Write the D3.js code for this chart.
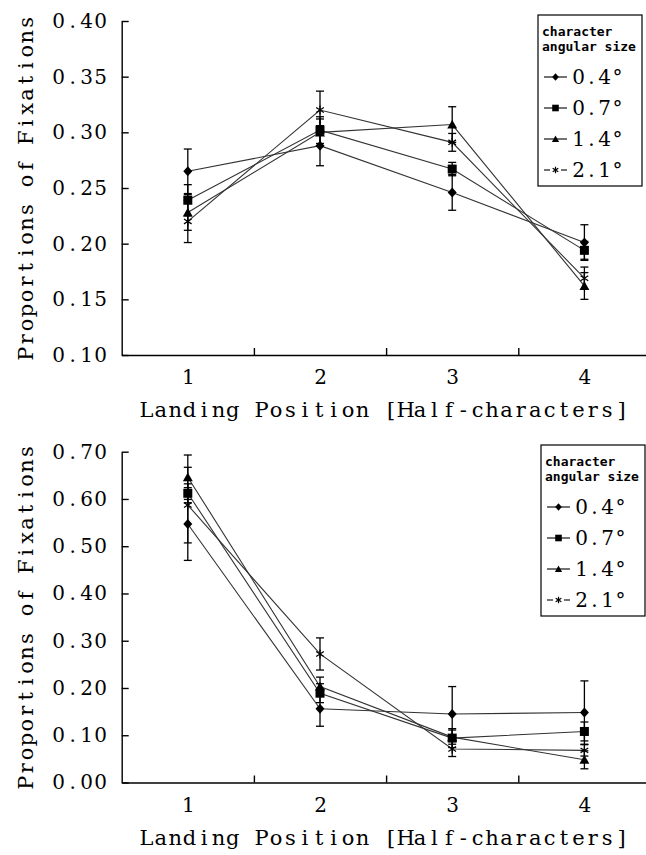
<!DOCTYPE html>
<html>
<head>
<meta charset="utf-8">
<script src="https://cdn.jsdelivr.net/npm/d3@7"></script>
<style>
body { margin: 0; background: #fff; }
svg { display: block; }
.axis path, .axis line { stroke: #000; stroke-width: 1.4; }
.axis text { font-family: "DejaVu Serif", serif; font-size: 20px; fill: #000; }
.title { font-family: "DejaVu Serif", serif; font-size: 21px; fill: #000; }
.series-line { fill: none; stroke: #333; stroke-width: 1.1; }
.err { stroke: #000; stroke-width: 1.3; }
.legend-title { font-family: "DejaVu Sans Mono", monospace; font-weight: bold; font-size: 13px; fill: #000; }
.legend-text { font-family: "DejaVu Serif", serif; font-size: 20px; fill: #000; }
</style>
</head>
<body>
<svg id="chart" width="646" height="855"></svg>
<script>
const categories = [1, 2, 3, 4];
const sizeLabels = ["0.4°", "0.7°", "1.4°", "2.1°"];
const markerTypes = ["diamond", "square", "triangle", "asterisk"];

// top panel
const topTicks = [0.10, 0.15, 0.20, 0.25, 0.30, 0.35, 0.40];
const top04 = [0.265, 0.288, 0.246, 0.201];
const top07 = [0.239, 0.302, 0.267, 0.194];
const top14 = [0.228, 0.300, 0.307, 0.162];
const top21 = [0.220, 0.320, 0.291, 0.169];
const topErr04 = [0.020, 0.018, 0.016, 0.016];
const topErr07 = [0.014, 0.012, 0.006, 0.008];
const topErr14 = [0.016, 0.012, 0.016, 0.012];
const topErr21 = [0.019, 0.017, 0.008, 0.010];

// bottom panel
const bottomTicks = [0.00, 0.10, 0.20, 0.30, 0.40, 0.50, 0.60, 0.70];
const bottom04 = [0.547, 0.156, 0.145, 0.148];
const bottom07 = [0.612, 0.189, 0.094, 0.108];
const bottom14 = [0.646, 0.203, 0.096, 0.048];
const bottom21 = [0.587, 0.272, 0.071, 0.068];
const bottomErr04 = [0.077, 0.037, 0.058, 0.067];
const bottomErr07 = [0.020, 0.020, 0.020, 0.020];
const bottomErr14 = [0.047, 0.020, 0.015, 0.019];
const bottomErr21 = [0.080, 0.034, 0.016, 0.012];

const xTitle = "Landing Position [Half-characters]";
const yTitle = "Proportions of Fixations";
const legendHead = ["character", "angular size"];

const svg = d3.select("#chart");

// lays characters out in fixed-width cells, like the half-width glyphs of the original
function monoText(text, str, x0, cw, anchor) {
	const n = str.length;
	let start = x0;
	if (anchor === "end") start = x0 - n * cw;
	else if (anchor === "middle") start = x0 - n * cw / 2;
	text.text(null).attr("text-anchor", "middle");
	for (let i = 0; i < n; i++) {
		text.append("tspan")
			.attr("x", start + (i + 0.5) * cw)
			.text(str[i]);
	}
}

function markerPath(type, r) {
	if (type === "diamond") {
		return `M0,${-r * 1.1}L${r},0L0,${r * 1.1}L${-r},0Z`;
	}
	else if (type === "square") {
		return `M${-r},${-r}h${2 * r}v${2 * r}h${-2 * r}Z`;
	}
	else if (type === "triangle") {
		return `M0,${-r * 1.05}L${r * 1.1},${r * 0.9}L${-r * 1.1},${r * 0.9}Z`;
	}
	// asterisk
	return `M0,${-r}V${r}M${-r * 0.85},${-r * 0.55}L${r * 0.85},${r * 0.55}M${-r * 0.85},${r * 0.55}L${r * 0.85},${-r * 0.55}`;
}

function drawMarker(g, type, r) {
	const p = g.append("path").attr("d", markerPath(type, r));
	if (type === "asterisk") {
		p.attr("fill", "none").attr("stroke", "#000").attr("stroke-width", 1.2);
	}
	else {
		p.attr("fill", "#000");
	}
}

function drawPanel(opts) {

	const x = d3.scaleLinear().domain([0.5, 4.5]).range([121.7, 650.5]);
	const y = d3.scaleLinear().domain(opts.domain).range([opts.bottom, opts.top]);
	const g = svg.append("g");

	// y axis
	const yAxis = g.append("g")
		.attr("class", "axis")
		.attr("transform", "translate(121.7,0)")
		.call(d3.axisLeft(y).tickValues(opts.ticks).tickSize(-7).tickSizeOuter(0)
			.tickPadding(14).tickFormat(d3.format(".2f")));
	yAxis.selectAll(".tick text").each(function() {
		const t = d3.select(this);
		monoText(t, t.text(), -14, 14, "end");
	});

	// x axis with inner ticks between categories
	g.append("g")
		.attr("class", "axis")
		.attr("transform", "translate(0," + opts.bottom + ")")
		.call(d3.axisBottom(x).tickValues([1.5, 2.5, 3.5]).tickSize(-7).tickSizeOuter(0).tickFormat(""));

	const xLabels = g.append("g")
		.attr("class", "axis")
		.attr("transform", "translate(0," + opts.bottom + ")")
		.call(d3.axisBottom(x).tickValues(categories).tickSize(0).tickPadding(15).tickFormat(d3.format("d")));
	xLabels.select(".domain").remove();

	const xt = g.append("text")
		.attr("class", "title")
		.attr("y", opts.bottom + 62);
	monoText(xt, xTitle, 384, 14.4, "middle");

	const yt = g.append("text")
		.attr("class", "title")
		.attr("transform", "translate(33," + (opts.top + opts.bottom) / 2 + ") rotate(-90)");
	monoText(yt, yTitle, 0, 14.4, "middle");

	const line = d3.line()
		.x((d, i) => x(categories[i]))
		.y(d => y(d));

	for (const s of opts.series) {
		g.append("path")
			.attr("class", "series-line")
			.attr("d", line(s.values));
	}

	// error bars
	for (const s of opts.series) {
		s.values.forEach((v, i) => {
			const cx = x(categories[i]);
			const y1 = y(v + s.errors[i]);
			const y2 = y(v - s.errors[i]);
			g.append("line").attr("class", "err")
				.attr("x1", cx).attr("x2", cx).attr("y1", y1).attr("y2", y2);
			g.append("line").attr("class", "err")
				.attr("x1", cx - 4).attr("x2", cx + 4).attr("y1", y1).attr("y2", y1);
			g.append("line").attr("class", "err")
				.attr("x1", cx - 4).attr("x2", cx + 4).attr("y1", y2).attr("y2", y2);
		});
	}

	opts.series.forEach((s, k) => {
		s.values.forEach((v, i) => {
			const m = g.append("g").attr("transform", "translate(" + x(categories[i]) + "," + y(v) + ")");
			drawMarker(m, markerTypes[k], 4.5);
		});
	});

	// legend
	const lg = g.append("g").attr("transform", "translate(" + opts.legend[0] + "," + opts.legend[1] + ")");
	lg.append("rect")
		.attr("width", 104).attr("height", 171)
		.attr("fill", "#fff").attr("stroke", "#000").attr("stroke-width", 1.2);
	legendHead.forEach((t, i) => {
		lg.append("text").attr("class", "legend-title")
			.attr("x", 4).attr("y", 21 + i * 15).text(t);
	});
	const rowY = d3.scaleLinear().domain([0, 3]).range([62, 155]);
	sizeLabels.forEach((t, k) => {
		const ry = rowY(k);
		if (markerTypes[k] === "asterisk") {
			lg.append("line").attr("x1", 6).attr("x2", 12).attr("y1", ry).attr("y2", ry)
				.attr("stroke", "#000").attr("stroke-width", 1.1);
			lg.append("line").attr("x1", 23).attr("x2", 29).attr("y1", ry).attr("y2", ry)
				.attr("stroke", "#000").attr("stroke-width", 1.1);
		}
		else {
			lg.append("line").attr("x1", 6).attr("x2", 29).attr("y1", ry).attr("y2", ry)
				.attr("stroke", "#000").attr("stroke-width", 1.1);
		}
		const m = lg.append("g").attr("transform", "translate(17.5," + ry + ")");
		drawMarker(m, markerTypes[k], 3.3);
		const lt = lg.append("text").attr("class", "legend-text").attr("y", ry + 7);
		monoText(lt, t, 34, 13, "start");
	});
}

drawPanel({
	domain: [0.10, 0.40],
	ticks: topTicks,
	top: 21,
	bottom: 355,
	legend: [538, 15],
	series: [
		{values: top04, errors: topErr04},
		{values: top07, errors: topErr07},
		{values: top14, errors: topErr14},
		{values: top21, errors: topErr21}
	]
});

drawPanel({
	domain: [0.00, 0.70],
	ticks: bottomTicks,
	top: 451.7,
	bottom: 782.5,
	legend: [541, 445],
	series: [
		{values: bottom04, errors: bottomErr04},
		{values: bottom07, errors: bottomErr07},
		{values: bottom14, errors: bottomErr14},
		{values: bottom21, errors: bottomErr21}
	]
});
</script>
</body>
</html>
